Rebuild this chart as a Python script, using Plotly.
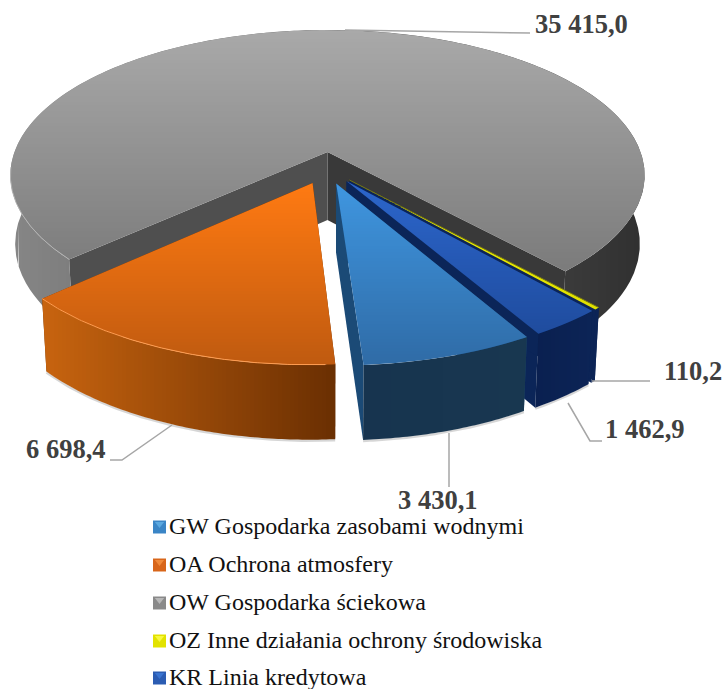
import math
import plotly.graph_objects as go

# ---- data ----
codes = ["GW", "OA", "OW", "OZ", "KR"]
names = ["GW Gospodarka zasobami wodnymi", "OA Ochrona atmosfery", "OW Gospodarka ściekowa",
         "OZ Inne działania ochrony środowiska", "KR Linia kredytowa"]
values = [3430.1, 6698.4, 35415.0, 110.2, 1462.9]

# ---- styles ----
first_angle = 150.0
legend_colors = ["#3a85c6", "#d8661a", "#8a8a8a", "#e2e200", "#2b5cb2"]
legend_light = ["#5aa8e0", "#f08a3a", "#b8b8b8", "#f8f840", "#3a74d0"]
top_stops = {"GW": ("#3f96e0", "#2f6ba6"), "OA": ("#ff7a12", "#bf5a10"), "OW": ("#a9a9a9", "#7b7b7b"),
             "OZ": ("#f4f400", "#e0e000"), "KR": ("#2c66cc", "#1f4c9e")}
wall_stops = {"GW": ("#17344f", "#183750"), "OA": ("#c8640f", "#6a2f02"), "OW": ("#868686", "#303030"),
              "OZ": ("#0c2456", "#0c2456"), "KR": ("#0a2050", "#0c2456")}
radial_wall = {"GW": "#1b4a76", "OA": "#6a3002", "OW": ("#4f4f4f", "#393939"), "OZ": "#0c2456", "KR": "#0b2558"}
rim = {"OA": "#ff9c50", "OW": "#b4b4b4"}
LABEL = "#404040"; LEADER = "#a6a6a6"; LEG_TXT = "#111111"; OZ_EDGE = "#7a7a10"; SHADOW = "rgba(0,0,0,0.16)"
draw_order = ["OW", "OZ", "KR", "OA", "GW"]

# ---- projection ----
CX, CY, A, B, K, EXPL, DEPTH, CONV, DP = 327.5, 152.0, 313.0, 141.5, 0.16, 0.11, 68.0, 0.985, 0.45

def hexrgb(h):
    return tuple(int(h[i:i + 2], 16) for i in (1, 3, 5))

def mix(c0, c1, t):
    t = max(0.0, min(1.0, t))
    a, b = hexrgb(c0), hexrgb(c1)
    return "rgb(%d,%d,%d)" % tuple(round(a[i] + (b[i] - a[i]) * t) for i in range(3))

def project(px, py):
    w = 1 - K * py
    return CX + A * px / w, CY + B * py / w, w

def lower(px, py):
    x, y, w = project(px, py)
    return CX + (x - CX) * CONV, y + DEPTH / w ** DP

def clip(poly, axis, lo, hi):
    def half(pts, keep, limit):
        out = []
        for i, p in enumerate(pts):
            q = pts[(i + 1) % len(pts)]
            kp, kq = keep(p[axis]), keep(q[axis])
            if kp:
                out.append(p)
            if kp != kq:
                t = (limit - p[axis]) / (q[axis] - p[axis])
                out.append((p[0] + (q[0] - p[0]) * t, p[1] + (q[1] - p[1]) * t))
        return out
    r = half(poly, lambda v: v >= lo, lo)
    if r:
        r = half(r, lambda v: v <= hi, hi)
    return r

fig = go.Figure()

def add_poly(poly, color):
    xs = [p[0] for p in poly] + [poly[0][0]]
    ys = [p[1] for p in poly] + [poly[0][1]]
    fig.add_trace(go.Scatter(x=xs, y=ys, mode="lines", fill="toself", fillcolor=color,
                             line=dict(width=0), hoverinfo="skip", showlegend=False))

def add_line(pts, color, width):
    fig.add_trace(go.Scatter(x=[p[0] for p in pts], y=[p[1] for p in pts], mode="lines",
                             line=dict(color=color, width=width), hoverinfo="skip", showlegend=False))

def gradient(poly, axis, c0, c1, step):
    vals = [p[axis] for p in poly]
    lo, hi = min(vals), max(vals)
    v = math.floor(lo)
    while v < hi:
        piece = clip(poly, axis, v, v + step)
        if len(piece) >= 3:
            add_poly(piece, mix(c0, c1, (v + step / 2 - lo) / (hi - lo)))
        v += step

# ---- slice angles from the values ----
total = sum(values)
angles = {}
start = first_angle
for code, val in zip(codes, values):
    span = val / total * 360
    angles[code] = (start, start + span)
    start += span

def offset(code):
    a0, a1 = angles[code]
    mid = math.radians((a0 + a1) / 2)
    m0 = math.radians(sum(angles["OW"]) / 2)
    return (EXPL * (math.sin(mid) - math.sin(m0)), EXPL * (-math.cos(mid) + math.cos(m0)))

for code in draw_order:
    a0, a1 = angles[code]
    ox, oy = offset(code)
    n = max(4, int((a1 - a0) * 2))
    arc = []
    for i in range(n + 1):
        t = math.radians(a0 + (a1 - a0) * i / n)
        arc.append((ox + math.sin(t), oy - math.cos(t)))
    top_arc = [project(*p)[:2] for p in arc]
    low_arc = [lower(*p) for p in arc]
    apex_t = project(ox, oy)[:2]
    apex_b = lower(ox, oy)
    rw = radial_wall[code]
    rw0, rw1 = rw if isinstance(rw, tuple) else (rw, rw)
    # soft shadow just below the front of the wall
    if code in ("OA", "GW", "KR"):
        add_line([(x, y + 1) for x, y in low_arc], SHADOW, 2.5)
    # radial walls: the end of the arc first, its start afterwards
    add_poly([apex_t, top_arc[-1], low_arc[-1], apex_b], rw1)
    add_poly([apex_t, top_arc[0], low_arc[0], apex_b], rw0)
    # outer wall
    c0, c1 = wall_stops[code]
    gradient(top_arc + low_arc[::-1], 0, c0, c1, 4)
    # top surface
    c0, c1 = top_stops[code]
    gradient([apex_t] + top_arc, 1, c0, c1, 3)
    if code in rim:
        add_line([p for p, q in zip(top_arc, arc) if q[1] > 0.1 and q[0] < 0], rim[code], 1)
    if code == "OZ":
        add_line([apex_t, top_arc[0]], OZ_EDGE, 1)

# ---- leaders and value labels ----
leaders = {"OW": ([345, 400, 530], [30, 31, 33]), "OA": ([110, 122, 172], [460, 460, 425]),
           "GW": ([449, 449], [433, 487]), "KR": ([568, 590, 602], [403, 441, 441]),
           "OZ": ([592, 650], [381, 381])}
label_pos = {"OW": (535, 26), "OA": (26, 451), "GW": (398, 502), "KR": (605, 431), "OZ": (664, 373)}

def fmt(v):
    return f"{v:,.1f}".replace(",", " ").replace(".", ",")

for code, val in zip(codes, values):
    lx, ly = leaders[code]
    add_line(list(zip(lx, ly)), LEADER, 1.5)
    px, py = label_pos[code]
    fig.add_trace(go.Scatter(x=[px], y=[py], mode="text", text=[fmt(val)], textposition="middle right",
                             textfont=dict(family="Liberation Serif", size=26.5, color=LABEL, weight="bold"),
                             hoverinfo="skip", showlegend=False))

# ---- legend ----
rows = [528, 566, 604, 642, 679]
for name, col, light, ry in zip(names, legend_colors, legend_light, rows):
    fig.add_trace(go.Scatter(x=[159.5], y=[ry - 1], mode="markers",
                             marker=dict(symbol="square", size=13, color=col,
                                         line=dict(width=0)),
                             hoverinfo="skip", showlegend=False))
    fig.add_trace(go.Scatter(x=[159.5], y=[ry - 4], mode="markers",
                             marker=dict(symbol="triangle-down", size=8, color=light, line=dict(width=0)),
                             hoverinfo="skip", showlegend=False))
    fig.add_trace(go.Scatter(x=[169], y=[ry], mode="text", text=[name], textposition="middle right",
                             textfont=dict(family="Liberation Serif", size=24, color=LEG_TXT),
                             hoverinfo="skip", showlegend=False))

fig.update_xaxes(range=[0, 726], visible=False, fixedrange=True)
fig.update_yaxes(range=[689, 0], visible=False, fixedrange=True)
fig.update_layout(width=726, height=689, margin=dict(l=0, r=0, t=0, b=0),
                  paper_bgcolor="white", plot_bgcolor="white", showlegend=False)
fig.write_html("out.html", config=dict(displayModeBar=False),
               post_script="document.body.style.margin='0';document.body.style.overflow='hidden';")
